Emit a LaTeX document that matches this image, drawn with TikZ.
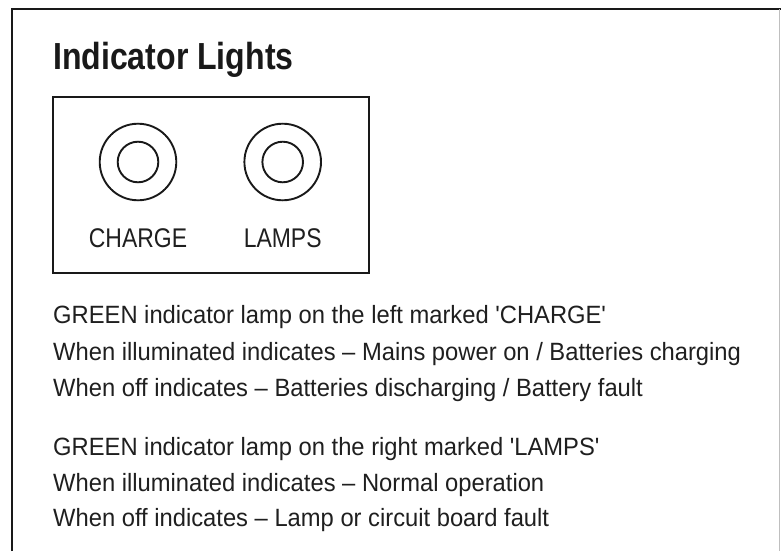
\documentclass[tikz,border=0pt]{standalone}
\usepackage{fontspec}
\setmainfont{Liberation Sans}
\newfontfamily\bodyfont[FakeStretch=0.95]{Liberation Sans}
\newfontfamily\capsfont[FakeStretch=0.85]{Liberation Sans}
\usetikzlibrary{positioning}

\begin{document}
\begin{tikzpicture}[x=1pt,y=-1pt,
  ink/.style={draw=black!90},
  heading/.style={anchor=base west,inner sep=0pt,text=black!90,font=\capsfont\bfseries\fontsize{37.7}{40}\selectfont},
  lampname/.style={anchor=base,inner sep=0pt,text=black!88,font=\capsfont\fontsize{27}{30}\selectfont},
  textline/.style={anchor=base west,inner sep=0pt,text=black!88,font=\bodyfont\fontsize{25}{30}\selectfont}]
\useasboundingbox (0,0) rectangle (781,551);
% frame
\draw[ink,line width=2.5pt] (12,551) |- (781,9);
\draw[black!25,line width=0.6pt] (779.5,9) -- (779.5,551);
\node[heading] (title) at (53,70) {Indicator Lights};
% lamp panel
\draw[ink,line width=2pt] (52.5,97) rectangle (368.5,272.5);
\foreach \name/\px/\txt in {charge/138/CHARGE,lamps/282.7/LAMPS}{
  \coordinate (\name) at (\px,162);
  \draw[ink,line width=1.9pt] (\name) circle[radius=38.3];
  \draw[ink,line width=1.9pt] (\name) circle[radius=20.3];
  \node[lampname] (\name-lbl) at (\px,247.7) {\txt};
}
% descriptions
\node[textline] (c1) at (53,323.3) {GREEN indicator lamp on the left marked 'CHARGE'};
\node[textline] (c2) at (53,360) {When illuminated indicates – Mains power on / Batteries charging};
\node[textline] (c3) at (53,396.7) {When off indicates – Batteries discharging / Battery fault};
\node[textline] (l1) at (53,455) {GREEN indicator lamp on the right marked 'LAMPS'};
\node[textline] (l2) at (53,491.7) {When illuminated indicates – Normal operation};
\node[textline] (l3) at (53,526.7) {When off indicates – Lamp or circuit board fault};
\end{tikzpicture}
\end{document}
